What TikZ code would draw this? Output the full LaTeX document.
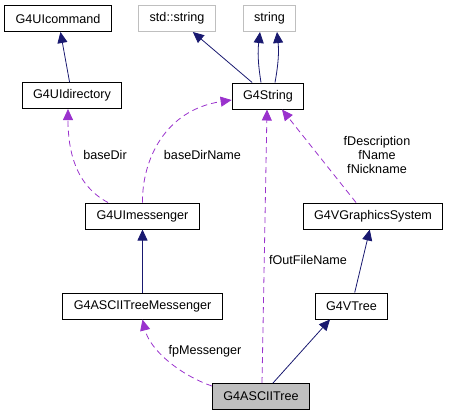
\documentclass[tikz,border=0pt]{standalone}
\usepackage{fontspec}
\setmainfont{Liberation Sans}
\usetikzlibrary{arrows.meta}

\definecolor{inhblue}{HTML}{191970}
\definecolor{usepurple}{HTML}{9A32CD}
\definecolor{extgray}{HTML}{BFBFBF}

\begin{document}
\begin{tikzpicture}[x=1pt, y=-1pt,
  every node/.style={font=\fontsize{12.6}{14}\selectfont},
  cls/.style={draw, line width=1pt, inner xsep=11pt, inner ysep=0pt, minimum height=26pt},
  ext/.style={cls, draw=extgray},
  inh/.style={draw=inhblue, line width=0.8pt, -{Triangle[length=11pt,width=10pt]}},
  use/.style={draw=usepurple, line width=0.8pt, dash pattern=on 6pt off 4pt,
              -{Triangle[length=11pt,width=10pt]}},
  lbl/.style={align=center}]
\useasboundingbox (0,0) rectangle (449,416);
% classes
\node[cls] (cmd) at (58,18.5) {G4UIcommand};
\node[ext] (stds) at (177,18.5) {std::string};
\node[ext] (str) at (269.5,18.5) {string};
\node[cls] (dir) at (72,95.5) {G4UIdirectory};
\node[cls] (g4s) at (268,96) {G4String};
\node[cls] (msg) at (142.5,216) {G4UImessenger};
\node[cls] (gsys) at (373,216) {G4VGraphicsSystem};
\node[cls] (atm) at (142.5,306) {G4ASCIITreeMessenger};
\node[cls] (vtree) at (351.5,306) {G4VTree};
\node[cls, fill=extgray] (atree) at (261,396.5) {G4ASCIITree};
% inheritance
\foreach \a/\b in {dir/cmd, g4s/stds, atm/msg, vtree/gsys}
  \draw[inh] (\a) -- (\b);
\draw[inh] ([xshift=-7pt]g4s.north) to[bend left=8] ([xshift=-9.5pt]str.south);
\draw[inh] ([xshift=7pt]g4s.north) to[bend right=8] ([xshift=7.5pt]str.south);
\draw[inh] ([xshift=12pt]atree.north) -- ([xshift=-21.5pt]vtree.south);
% usage
\draw[use] ([xshift=-34.5pt]msg.north) .. controls (75,185) and (68,150) .. ([xshift=-4pt]dir.south);
\draw[use] (msg.north) .. controls (142,160) and (165,110) .. ([yshift=-4pt]g4s.west);
\draw[use] ([xshift=-17pt]gsys.north) -- ([xshift=14pt]g4s.south);
\draw[use] ([xshift=1pt]atree.north) -- ([xshift=-1pt]g4s.south);
\draw[use] ([yshift=-3pt]atree.north west) .. controls (180,375) and (150,350) .. (atm.south);
% labels
\node (basedir) at (105,155) {baseDir};
\node (basedirname) at (202.5,155) {baseDirName};
\node[lbl] (names) at (377,155) {fDescription\\fName\\fNickname};
\node (outfile) at (308,260) {fOutFileName};
\node (fpmsg) at (205,351) {fpMessenger};
\end{tikzpicture}
\end{document}
